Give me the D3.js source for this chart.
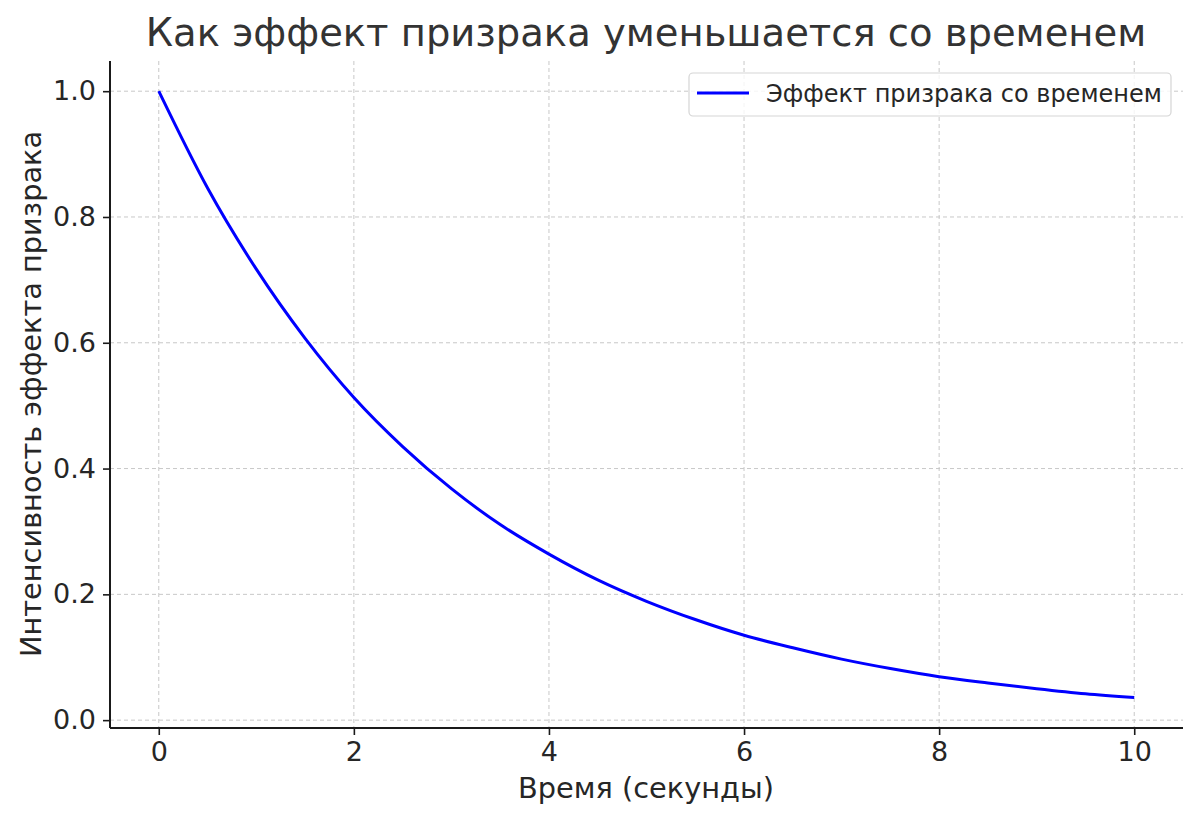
<!DOCTYPE html>
<html><head><meta charset="utf-8">
<script src="https://cdn.jsdelivr.net/npm/d3@7"></script>
<style>body{margin:0;background:#fff}svg{display:block}</style>
</head><body>
<svg id="c" width="1200" height="820"></svg>
<script>
const title = "Как эффект призрака уменьшается со временем";
const xLabel = "Время (секунды)";
const yLabel = "Интенсивность эффекта призрака";
const seriesName = "Эффект призрака со временем";
const times = [0,0.5,1,1.5,2,2.5,3,3.5,4,4.5,5,5.5,6,6.5,7,7.5,8,8.5,9,9.5,10];
const intensity = [1.000,0.846,0.717,0.607,0.513,0.435,0.368,0.311,0.264,0.223,0.189,0.160,0.135,0.115,0.097,0.082,0.069,0.059,0.050,0.042,0.036];
const xTicks = [0,2,4,6,8,10];
const yTicks = [0.0,0.2,0.4,0.6,0.8,1.0];

const svg = d3.select("#c");
const font = "DejaVu Sans, sans-serif";
const L = 110, R = 1183, T = 61, B = 728;
const x = d3.scaleLinear().domain([-0.5, 10.5]).range([L, R]);
const y = d3.scaleLinear().domain([-0.0125, 1.048]).range([B, T]);

// grid
const g = svg.append("g");
g.selectAll(".gx").data(xTicks).join("line")
  .attr("x1", d => x(d)).attr("x2", d => x(d)).attr("y1", T).attr("y2", B)
  .attr("stroke", "#c8c8c8").attr("stroke-width", 1).attr("stroke-dasharray", "4,3");
g.selectAll(".gy").data(yTicks).join("line")
  .attr("y1", d => y(d)).attr("y2", d => y(d)).attr("x1", L).attr("x2", R)
  .attr("stroke", "#c8c8c8").attr("stroke-width", 1).attr("stroke-dasharray", "4,3");

// line
const line = d3.line().x((d,i) => x(times[i])).y(d => y(d)).curve(d3.curveMonotoneX);
svg.append("path").datum(intensity).attr("d", line)
  .attr("fill", "none").attr("stroke", "#0000ff").attr("stroke-width", 3);

// axes
const xa = svg.append("g").attr("transform", `translate(0,${B})`)
  .call(d3.axisBottom(x).tickValues(xTicks).tickFormat(d3.format("d")).tickSize(7).tickPadding(7));
const ya = svg.append("g").attr("transform", `translate(${L},0)`)
  .call(d3.axisLeft(y).tickValues(yTicks).tickFormat(d3.format(".1f")).tickSize(7).tickPadding(7));
[xa, ya].forEach(a => {
  a.select(".domain").attr("stroke", "#1a1a1a").attr("stroke-width", 2);
  a.selectAll(".tick line").attr("stroke", "#1a1a1a").attr("stroke-width", 1.6);
  a.selectAll("text").attr("font-family", font).attr("font-size", 27).attr("fill", "#262626");
});
xa.select(".domain").attr("d", `M${L},0H${R}`);
ya.select(".domain").attr("d", `M0,${B}V${T}`);

// labels
svg.append("text").attr("x", 646).attr("y", 46).attr("text-anchor", "middle")
  .attr("font-family", font).attr("font-size", 38.5).attr("fill", "#333").text(title);
svg.append("text").attr("x", 646).attr("y", 798).attr("text-anchor", "middle")
  .attr("font-family", font).attr("font-size", 28.8).attr("fill", "#262626").text(xLabel);
svg.append("text").attr("transform", "translate(41,394) rotate(-90)").attr("text-anchor", "middle")
  .attr("font-family", font).attr("font-size", 28.8).attr("fill", "#262626").text(yLabel);

// legend
const lg = svg.append("g");
lg.append("rect").attr("x", 689).attr("y", 73).attr("width", 482).attr("height", 43).attr("rx", 4)
  .attr("fill", "#fff").attr("fill-opacity", 0.8).attr("stroke", "#d5d5d5").attr("stroke-width", 1.2);
lg.append("line").attr("x1", 697).attr("x2", 749).attr("y1", 93).attr("y2", 93)
  .attr("stroke", "#0000ff").attr("stroke-width", 3);
lg.append("text").attr("x", 766).attr("y", 102).attr("font-family", font).attr("font-size", 24)
  .attr("fill", "#262626").text(seriesName);
</script>
</body></html>
